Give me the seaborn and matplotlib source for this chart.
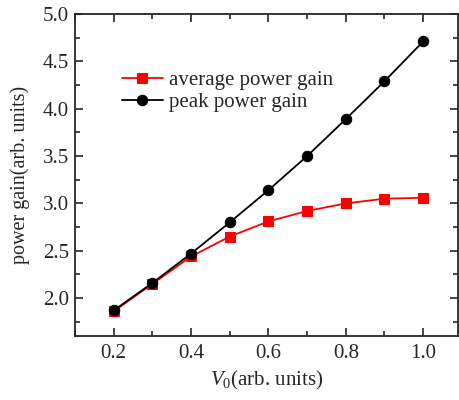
import matplotlib
matplotlib.use("Agg")
import matplotlib.pyplot as plt
import seaborn as sns
import pandas as pd
from matplotlib.ticker import MultipleLocator, FormatStrFormatter

v0 = [0.2, 0.3, 0.4, 0.5, 0.6, 0.7, 0.8, 0.9, 1.0]
average_gain = [1.86, 2.15, 2.44, 2.65, 2.81, 2.92, 3.00, 3.05, 3.06]
peak_gain = [1.87, 2.16, 2.47, 2.80, 3.14, 3.50, 3.89, 4.29, 4.71]
series_names = ["average power gain", "peak power gain"]

sns.set_style("ticks")
plt.rcParams['font.family'] = ['Liberation Serif', 'DejaVu Serif']
plt.rcParams['mathtext.fontset'] = 'custom'
plt.rcParams['mathtext.rm'] = 'Liberation Serif'
plt.rcParams['mathtext.it'] = 'Liberation Serif:italic'

df = pd.DataFrame({
    "V0": v0 * 2,
    "gain": average_gain + peak_gain,
    "series": [series_names[0]] * len(v0) + [series_names[1]] * len(v0),
})

fig = plt.figure(figsize=(4.59, 4.0), dpi=100)
ax = fig.add_axes([75 / 459, 1 - 336 / 400, 383 / 459, 322 / 400])

sns.lineplot(data=df[df.series == series_names[0]], x="V0", y="gain", ax=ax,
             color="#ff0000", marker="s", markersize=6.5, markeredgecolor="#ff0000",
             linewidth=1.3, label=series_names[0])
sns.lineplot(data=df[df.series == series_names[1]], x="V0", y="gain", ax=ax,
             color="black", marker="o", markersize=7.5, markeredgecolor="black",
             linewidth=1.3, label=series_names[1])

ax.set_xlim(0.1, 1.09)
ax.set_ylim(1.6, 5.0)
ax.xaxis.set_major_locator(MultipleLocator(0.2))
ax.xaxis.set_minor_locator(MultipleLocator(0.1))
ax.yaxis.set_major_locator(MultipleLocator(0.5))
ax.yaxis.set_minor_locator(MultipleLocator(0.25))
ax.xaxis.set_major_formatter(FormatStrFormatter('%.1f'))
ax.yaxis.set_major_formatter(FormatStrFormatter('%.1f'))
ax.tick_params(which='both', direction='in', top=True, right=True, labelsize=15, width=1.2)
ax.tick_params(which='major', length=6)
ax.tick_params(which='minor', length=3.5)
ax.tick_params(axis='x', which='major', pad=6)
ax.tick_params(axis='y', which='major', pad=4.5)
for s in ax.spines.values():
    s.set_linewidth(1.3)

ax.set_xlabel(r'$V_{\rm 0}$(arb. units)', fontsize=15, labelpad=4)
ax.set_ylabel('power gain(arb. units)', fontsize=14.5, labelpad=9)

leg = ax.legend(loc='upper left', bbox_to_anchor=(0.10, 0.85), frameon=False,
                fontsize=15, handlelength=2.0, handletextpad=0.25,
                labelspacing=0.1, borderaxespad=0)

fig.savefig("out.png", dpi=100)
